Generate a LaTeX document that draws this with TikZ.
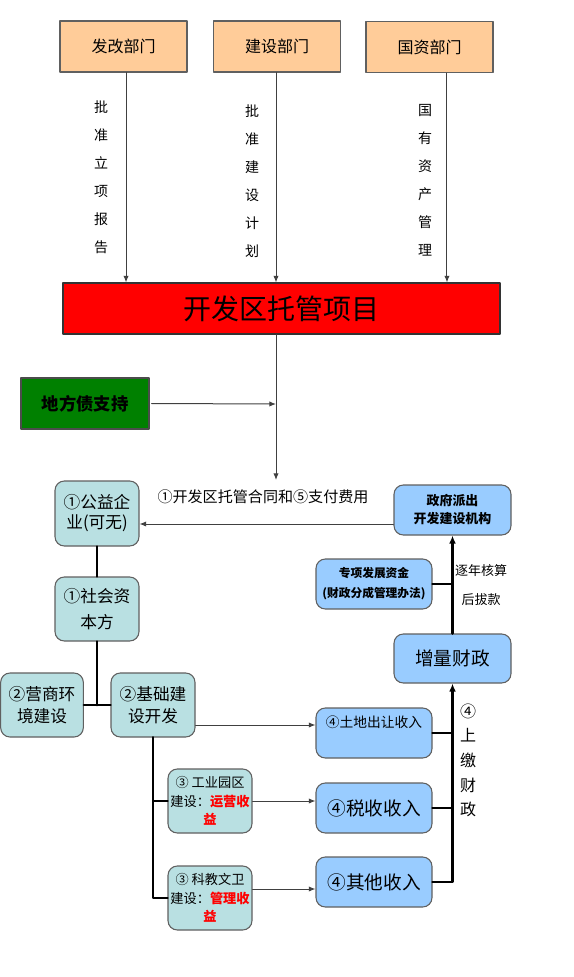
\documentclass[tikz,border=0pt]{standalone}
\usepackage{fontspec}
\setmainfont{Noto Sans CJK SC}
\usepackage{tikz}
\usetikzlibrary{positioning}
\usetikzlibrary{calc}
\usetikzlibrary{arrows.meta}
\definecolor{peach}{HTML}{FFCC99}
\definecolor{darkgreen}{HTML}{008000}
\definecolor{paleteal}{HTML}{B9E0E2}
\definecolor{paleblue}{HTML}{99CCFF}
\definecolor{boxline}{HTML}{606060}

\begin{document}
\begin{tikzpicture}[x=0.75pt,y=-0.75pt,line cap=round,line join=round,>={Latex[length=5pt,width=4pt]},
  dept/.style={draw=boxline,fill=peach,line width=0.8pt,minimum width=95.25pt,minimum height=38.25pt,font=\fontsize{12}{14}\selectfont},
  tealbox/.style={draw=boxline,fill=paleteal,rounded corners=7pt,line width=0.8pt,minimum width=63pt,minimum height=48pt,align=center,inner sep=1pt,font=\fontsize{12.5}{16}\selectfont},
  bluebox/.style={draw=boxline,fill=paleblue,rounded corners=7pt,line width=0.8pt,minimum width=87pt,minimum height=37.5pt,align=center,inner sep=1pt},
  flow/.style={draw=black!75,line width=0.75pt,->},
  bus/.style={draw=black,line width=2pt},
  vtext/.style={align=center,font=\fontsize{10.5}{21}\selectfont}]
\useasboundingbox (0,0) rectangle (574,977);
% departments on top
\node[dept] (fagai) at (123.5,46.5) {发改部门};
\node[dept] (jianshe) at (277,46.5) {建设部门};
\node[dept] (guozi) at (429.5,47) {国资部门};
\node[draw=black!80,fill=red,line width=0.8pt,minimum width=327.75pt,minimum height=38.25pt,font=\fontsize{21}{24}\selectfont] (xiangmu) at (281.5,308.5) {开发区托管项目};
\node[vtext] (lixiang) at (101,177.5) {批\\准\\立\\项\\报\\告};
\node[vtext] (jihua) at (252,181) {批\\准\\建\\设\\计\\划};
\node[vtext] (zichan) at (425,180) {国\\有\\资\\产\\管\\理};
\draw[flow] ([xshift=1.9pt]fagai.south) -- ([xshift=1.9pt]fagai.south |- xiangmu.north);
\draw[flow] ([xshift=-0.75pt]jianshe.south) -- ([xshift=-0.75pt]jianshe.south |- xiangmu.north);
\draw[flow] ([xshift=13.1pt]guozi.south) -- ([xshift=13.1pt]guozi.south |- xiangmu.north);
% debt support
\node[draw=black!70,fill=darkgreen,line width=0.8pt,minimum width=96pt,minimum height=38.25pt,font=\bfseries\fontsize{13}{15}\selectfont] (zhaiquan) at (85,403.5) {地方债支持};
\coordinate (huiru) at (276,404);
\coordinate (xiaxian) at (276,480);
\draw[flow] (xiangmu.south -| xiaxian) -- (xiaxian);
\draw[flow] ([xshift=1.5pt]zhaiquan.east) -- (huiru);
% left column
\node[tealbox,minimum height=48.75pt,font=\fontsize{12.5}{15}\selectfont] (gongyi) at (97,513.5) {①公益企\\业(可无)};
\node[bluebox,minimum width=87.75pt,font=\bfseries\fontsize{9.7}{13.5}\selectfont] (paichu) at (452.5,510) {政府派出\\开发建设机构};
\node[font=\fontsize{11.3}{13}\selectfont] (hetong) at (263,497) {①开发区托管合同和⑤支付费用};
\draw[flow] ([yshift=-10.5pt]paichu.west) -- ([yshift=-10.5pt]paichu.west -| gongyi.east);
\node[tealbox,font=\fontsize{12.5}{19}\selectfont] (shehui) at (97,609) {①社会资\\本方};
\node[tealbox,minimum width=62pt] (yingshang) at (42,705) {②营商环\\境建设};
\node[tealbox] (jichu) at (153,705) {②基础建\\设开发};
\coordinate (fencha) at (97,705);
\draw[bus] (gongyi.south) -- (shehui.north);
\draw[bus] (shehui.south) -- (fencha);
\draw[bus] (yingshang.east) -- (jichu.west);
\node[tealbox,font=\fontsize{9.9}{14}\selectfont] (gongye) at (210,801) {③ 工业园区\\建设：\textcolor{red}{\textbf{运营收}}\\\textcolor{red}{\textbf{益}}};
\node[tealbox,font=\fontsize{9.9}{14}\selectfont] (kejiao) at (210,898) {③ 科教文卫\\建设：\textcolor{red}{\textbf{管理收}}\\\textcolor{red}{\textbf{益}}};
\draw[bus] (jichu.south) |- (gongye.west);
\draw[bus] (jichu.south) |- (kejiao.west);
% revenues
\node[bluebox,font=\fontsize{10.3}{17}\selectfont] (tudi) at (374,733) {④土地出让收入\\\mbox{}};
\node[bluebox,font=\fontsize{14}{16}\selectfont] (shuishou) at (374,808) {④税收收入};
\node[bluebox,font=\fontsize{14}{16}\selectfont] (qita) at (374,882) {④其他收入};
\draw[flow] ([yshift=-15pt]jichu.east) -- ([yshift=-15pt]jichu.east -| tudi.west);
\draw[flow] (gongye.east) -- (gongye.east -| shuishou.west);
\draw[flow] ([yshift=6.75pt]kejiao.east) -- ([yshift=6.75pt]kejiao.east -| qita.west);
% finance
\node[bluebox,minimum width=87.75pt,minimum height=36.75pt,font=\fontsize{14}{16}\selectfont] (zengliang) at (452.5,658.5) {增量财政};
\node[bluebox,font=\bfseries\fontsize{8.8}{15}\selectfont] (zhuanxiang) at (374,584) {专项发展资金\\(财政分成管理办法)};
\draw[bus,-{Latex[length=6pt,width=5pt]}] (qita.east) -| (zengliang.south);
\draw[bus] (tudi.east) -- (tudi.east -| zengliang.south);
\draw[bus] (shuishou.east) -- (shuishou.east -| zengliang.south);
\draw[bus,-{Latex[length=6pt,width=5pt]}] (zengliang.north) -- (paichu.south);
\draw[bus] (zhuanxiang.east) -- (zhuanxiang.east -| zengliang.north);
\node[align=center,font=\fontsize{9.75}{21.75}\selectfont] (bokuan) at (481,585.5) {逐年核算\\后拔款};
\node[align=center,font=\fontsize{12}{18.5}\selectfont] (shangjiao) at (468,760.5) {④\\上\\缴\\财\\政};
\end{tikzpicture}
\end{document}
